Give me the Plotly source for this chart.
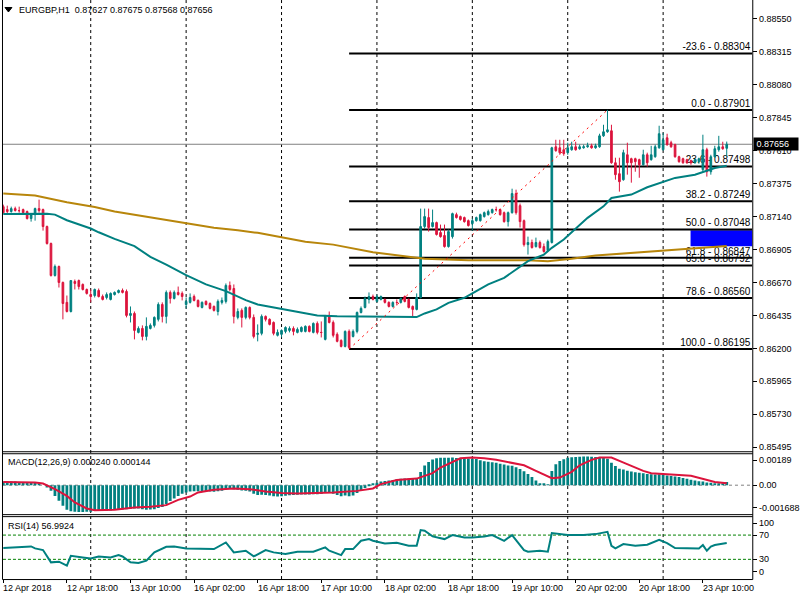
import plotly.graph_objects as go

# ---------------- data ----------------
symbol_title = "EURGBP,H1"
last_ohlc = [0.87627, 0.87675, 0.87568, 0.87656]

open_ = [
0.87211, 0.87190, 0.87176, 0.87197, 0.87183, 0.87190, 0.87176, 0.87126, 0.87154, 0.87197,
0.87190, 0.87069, 0.86948, 0.86720, 0.86784, 0.86670, 0.86528, 0.86463, 0.86677, 0.86684,
0.86656, 0.86620, 0.86584, 0.86577, 0.86613, 0.86570, 0.86563, 0.86549, 0.86584, 0.86599,
0.86613, 0.86606, 0.86435, 0.86449, 0.86314, 0.86342, 0.86285, 0.86342, 0.86364, 0.86407,
0.86513, 0.86428, 0.86599, 0.86556, 0.86599, 0.86592, 0.86513, 0.86528, 0.86570, 0.86542,
0.86492, 0.86535, 0.86520, 0.86499, 0.86463, 0.86528, 0.86535, 0.86649, 0.86627, 0.86421,
0.86471, 0.86421, 0.86492, 0.86421, 0.86300, 0.86307, 0.86428, 0.86407, 0.86385, 0.86293,
0.86300, 0.86321, 0.86328, 0.86342, 0.86314, 0.86321, 0.86321, 0.86357, 0.86314, 0.86378,
0.86314, 0.86264, 0.86435, 0.86385, 0.86300, 0.86257, 0.86214, 0.86321, 0.86285, 0.86321,
0.86456, 0.86492, 0.86549, 0.86570, 0.86535, 0.86549, 0.86549, 0.86528, 0.86499, 0.86528,
0.86528, 0.86570, 0.86549, 0.86499, 0.86478, 0.86563, 0.87069, 0.87133, 0.87069, 0.87097,
0.87026, 0.87005, 0.86926, 0.86997, 0.87154, 0.87140, 0.87133, 0.87111, 0.87090, 0.87111,
0.87111, 0.87140, 0.87154, 0.87168, 0.87190, 0.87190, 0.87168, 0.87104, 0.87168, 0.87304,
0.87218, 0.87111, 0.86940, 0.86955, 0.86926, 0.86955, 0.86926, 0.86898, 0.86955, 0.87638,
0.87631, 0.87617, 0.87596, 0.87617, 0.87638, 0.87624, 0.87631, 0.87638, 0.87645, 0.87631,
0.87638, 0.87716, 0.87745, 0.87752, 0.87524, 0.87446, 0.87403, 0.87581, 0.87553, 0.87553,
0.87546, 0.87510, 0.87581, 0.87546, 0.87567, 0.87631, 0.87617, 0.87702, 0.87667, 0.87653,
0.87567, 0.87553, 0.87546, 0.87539, 0.87524, 0.87532, 0.87475, 0.87617, 0.87460, 0.87567,
0.87617, 0.87638, 0.87627]

high = [
0.87225, 0.87218, 0.87211, 0.87211, 0.87211, 0.87197, 0.87183, 0.87161, 0.87204, 0.87261,
0.87197, 0.87076, 0.86955, 0.86798, 0.86791, 0.86677, 0.86577, 0.86684, 0.86691, 0.86691,
0.86663, 0.86627, 0.86620, 0.86627, 0.86627, 0.86584, 0.86599, 0.86599, 0.86606, 0.86620,
0.86627, 0.86620, 0.86499, 0.86463, 0.86357, 0.86364, 0.86421, 0.86378, 0.86428, 0.86528,
0.86528, 0.86613, 0.86613, 0.86613, 0.86641, 0.86606, 0.86563, 0.86592, 0.86584, 0.86549,
0.86535, 0.86542, 0.86528, 0.86506, 0.86549, 0.86563, 0.86663, 0.86677, 0.86656, 0.86485,
0.86485, 0.86499, 0.86499, 0.86442, 0.86371, 0.86442, 0.86435, 0.86414, 0.86392, 0.86335,
0.86335, 0.86357, 0.86357, 0.86357, 0.86349, 0.86357, 0.86364, 0.86364, 0.86385, 0.86392,
0.86392, 0.86435, 0.86463, 0.86399, 0.86314, 0.86264, 0.86328, 0.86335, 0.86335, 0.86463,
0.86499, 0.86570, 0.86599, 0.86584, 0.86584, 0.86577, 0.86556, 0.86535, 0.86535, 0.86549,
0.86563, 0.86577, 0.86556, 0.86506, 0.86592, 0.87197, 0.87197, 0.87197, 0.87190, 0.87104,
0.87083, 0.87083, 0.87047, 0.87168, 0.87168, 0.87147, 0.87140, 0.87119, 0.87126, 0.87140,
0.87161, 0.87176, 0.87190, 0.87197, 0.87211, 0.87197, 0.87176, 0.87176, 0.87339, 0.87332,
0.87233, 0.87119, 0.86997, 0.86976, 0.86990, 0.86969, 0.86948, 0.86976, 0.87638, 0.87688,
0.87688, 0.87688, 0.87667, 0.87674, 0.87674, 0.87653, 0.87653, 0.87667, 0.87660, 0.87660,
0.87731, 0.87795, 0.87901, 0.87795, 0.87560, 0.87560, 0.87617, 0.87667, 0.87560, 0.87560,
0.87553, 0.87617, 0.87596, 0.87645, 0.87653, 0.87788, 0.87738, 0.87731, 0.87681, 0.87660,
0.87574, 0.87560, 0.87553, 0.87546, 0.87553, 0.87560, 0.87724, 0.87631, 0.87581, 0.87645,
0.87716, 0.87674, 0.87675]

low = [
0.87161, 0.87154, 0.87168, 0.87176, 0.87168, 0.87161, 0.87119, 0.87104, 0.87111, 0.87168,
0.87040, 0.86940, 0.86712, 0.86712, 0.86634, 0.86407, 0.86456, 0.86456, 0.86620, 0.86620,
0.86613, 0.86584, 0.86528, 0.86563, 0.86563, 0.86542, 0.86549, 0.86542, 0.86577, 0.86592,
0.86592, 0.86421, 0.86385, 0.86264, 0.86307, 0.86257, 0.86257, 0.86335, 0.86349, 0.86392,
0.86385, 0.86378, 0.86520, 0.86549, 0.86577, 0.86542, 0.86485, 0.86520, 0.86535, 0.86492,
0.86485, 0.86506, 0.86478, 0.86463, 0.86435, 0.86513, 0.86520, 0.86606, 0.86378, 0.86407,
0.86349, 0.86407, 0.86407, 0.86271, 0.86250, 0.86293, 0.86392, 0.86364, 0.86293, 0.86285,
0.86278, 0.86307, 0.86314, 0.86293, 0.86307, 0.86314, 0.86314, 0.86314, 0.86307, 0.86300,
0.86278, 0.86257, 0.86378, 0.86278, 0.86243, 0.86207, 0.86207, 0.86195, 0.86278, 0.86307,
0.86449, 0.86485, 0.86520, 0.86542, 0.86528, 0.86542, 0.86520, 0.86492, 0.86492, 0.86506,
0.86520, 0.86528, 0.86485, 0.86428, 0.86471, 0.86556, 0.87054, 0.87033, 0.87062, 0.87005,
0.86990, 0.86919, 0.86919, 0.86983, 0.87126, 0.87111, 0.87097, 0.87069, 0.87040, 0.87104,
0.87104, 0.87133, 0.87147, 0.87161, 0.87176, 0.87147, 0.87097, 0.87069, 0.87161, 0.87154,
0.87062, 0.86926, 0.86869, 0.86912, 0.86919, 0.86912, 0.86883, 0.86891, 0.86948, 0.87603,
0.87581, 0.87574, 0.87581, 0.87610, 0.87610, 0.87617, 0.87624, 0.87631, 0.87624, 0.87624,
0.87631, 0.87709, 0.87738, 0.87517, 0.87403, 0.87318, 0.87396, 0.87439, 0.87382, 0.87460,
0.87417, 0.87503, 0.87496, 0.87539, 0.87560, 0.87624, 0.87610, 0.87645, 0.87631, 0.87560,
0.87524, 0.87517, 0.87517, 0.87510, 0.87517, 0.87517, 0.87460, 0.87425, 0.87439, 0.87560,
0.87603, 0.87617, 0.87568]

close = [
0.87168, 0.87176, 0.87197, 0.87183, 0.87182, 0.87168, 0.87126, 0.87154, 0.87197, 0.87183,
0.87069, 0.86948, 0.86720, 0.86784, 0.86670, 0.86520, 0.86463, 0.86684, 0.86663, 0.86641,
0.86620, 0.86592, 0.86570, 0.86620, 0.86570, 0.86549, 0.86584, 0.86592, 0.86599, 0.86613,
0.86599, 0.86435, 0.86449, 0.86328, 0.86342, 0.86285, 0.86357, 0.86364, 0.86421, 0.86513,
0.86428, 0.86599, 0.86556, 0.86599, 0.86584, 0.86570, 0.86535, 0.86563, 0.86542, 0.86499,
0.86528, 0.86513, 0.86485, 0.86471, 0.86535, 0.86542, 0.86649, 0.86620, 0.86428, 0.86463,
0.86421, 0.86492, 0.86421, 0.86285, 0.86307, 0.86428, 0.86407, 0.86371, 0.86307, 0.86314,
0.86328, 0.86349, 0.86342, 0.86321, 0.86335, 0.86349, 0.86357, 0.86321, 0.86378, 0.86314,
0.86313, 0.86435, 0.86385, 0.86293, 0.86250, 0.86214, 0.86321, 0.86207, 0.86321, 0.86456,
0.86485, 0.86556, 0.86570, 0.86549, 0.86570, 0.86570, 0.86528, 0.86499, 0.86528, 0.86527,
0.86556, 0.86535, 0.86492, 0.86478, 0.86563, 0.87069, 0.87140, 0.87062, 0.87097, 0.87012,
0.86997, 0.86926, 0.87033, 0.87161, 0.87133, 0.87119, 0.87104, 0.87076, 0.87111, 0.87133,
0.87154, 0.87168, 0.87176, 0.87190, 0.87189, 0.87154, 0.87104, 0.87168, 0.87304, 0.87168,
0.87104, 0.86940, 0.86955, 0.86919, 0.86955, 0.86919, 0.86891, 0.86962, 0.87631, 0.87610,
0.87596, 0.87589, 0.87631, 0.87638, 0.87617, 0.87638, 0.87638, 0.87645, 0.87631, 0.87645,
0.87716, 0.87745, 0.87759, 0.87524, 0.87439, 0.87389, 0.87596, 0.87524, 0.87524, 0.87532,
0.87510, 0.87581, 0.87524, 0.87581, 0.87638, 0.87731, 0.87688, 0.87653, 0.87638, 0.87567,
0.87532, 0.87524, 0.87524, 0.87524, 0.87546, 0.87553, 0.87617, 0.87460, 0.87567, 0.87624,
0.87638, 0.87624, 0.87656]

# moving averages (sampled at bar indices)
ma_fast_bar = [0, 11, 13, 16, 22, 24, 28, 33, 37, 41, 46, 51, 56, 61, 64, 70, 76, 79, 84, 95,
               104, 106, 109, 112, 116, 119, 122, 126, 129, 132, 136, 138, 141, 144, 147, 151,
               153, 158, 162, 169, 174, 179, 182]
ma_fast_val = [0.87159, 0.87161, 0.87154, 0.87114, 0.87055, 0.87028, 0.86981, 0.86929, 0.86853,
               0.86798, 0.86722, 0.86656, 0.86608, 0.86544, 0.86513, 0.86483, 0.86454, 0.86435,
               0.86430, 0.86428, 0.86423, 0.86449, 0.86478, 0.86525, 0.86561, 0.86608, 0.86656,
               0.86703, 0.86763, 0.86822, 0.86869, 0.86917, 0.86976, 0.87052, 0.87131, 0.87213,
               0.87273, 0.87297, 0.87349, 0.87416, 0.87439, 0.87487, 0.87503]
ma_slow_bar = [0, 8, 16, 23, 28, 34, 41, 47, 53, 59, 64, 70, 76, 83, 89, 93, 101, 106, 117, 132,
               137, 143, 149, 158, 169, 182]
ma_slow_val = [0.87304, 0.87290, 0.87242, 0.87209, 0.87176, 0.87147, 0.87114, 0.87088, 0.87060,
               0.87042, 0.87024, 0.86993, 0.86960, 0.86940, 0.86905, 0.86886, 0.86857, 0.86839,
               0.86829, 0.86829, 0.86822, 0.86839, 0.86862, 0.86881, 0.86900, 0.86930]

# MACD(12,26,9) main (histogram) per bar, and signal line samples
macd_main = [
0.00028, 0.00028, 0.00028, 0.00027, 0.00025, 0.00025, 0.00024, 0.00020, 0.00020, 0.00013,
0.00000, -0.00018, -0.00043, -0.00081, -0.00118, -0.00156, -0.00186, -0.00197, -0.00202, -0.00203,
-0.00203, -0.00202, -0.00202, -0.00196, -0.00195, -0.00194, -0.00194, -0.00192, -0.00188, -0.00186,
-0.00184, -0.00183, -0.00178, -0.00176, -0.00176, -0.00182, -0.00186, -0.00185, -0.00182, -0.00172,
-0.00165, -0.00145, -0.00120, -0.00100, -0.00082, -0.00065, -0.00055, -0.00048, -0.00045, -0.00045,
-0.00047, -0.00048, -0.00048, -0.00050, -0.00046, -0.00042, -0.00030, -0.00025, -0.00030, -0.00035,
-0.00040, -0.00042, -0.00048, -0.00065, -0.00075, -0.00072, -0.00074, -0.00078, -0.00083, -0.00086,
-0.00084, -0.00080, -0.00077, -0.00075, -0.00073, -0.00071, -0.00070, -0.00070, -0.00068, -0.00068,
-0.00066, -0.00058, -0.00058, -0.00065, -0.00075, -0.00083, -0.00078, -0.00083, -0.00078, -0.00060,
-0.00042, -0.00022, -0.00005, 0.00008, 0.00018, 0.00028, 0.00032, 0.00036, 0.00040, 0.00045,
0.00048, 0.00050, 0.00050, 0.00048, 0.00055, 0.00100, 0.00150, 0.00176, 0.00195, 0.00204,
0.00207, 0.00207, 0.00208, 0.00209, 0.00206, 0.00205, 0.00204, 0.00203, 0.00201, 0.00199,
0.00188, 0.00182, 0.00178, 0.00174, 0.00170, 0.00162, 0.00156, 0.00150, 0.00148, 0.00136,
0.00122, 0.00105, 0.00085, 0.00062, 0.00035, 0.00015, 0.00010, 0.00004, 0.00108, 0.00159,
0.00184, 0.00197, 0.00207, 0.00212, 0.00214, 0.00216, 0.00217, 0.00217, 0.00216, 0.00214,
0.00213, 0.00210, 0.00200, 0.00170, 0.00145, 0.00125, 0.00118, 0.00110, 0.00104, 0.00098,
0.00095, 0.00090, 0.00085, 0.00082, 0.00080, 0.00082, 0.00078, 0.00074, 0.00070, 0.00066,
0.00062, 0.00055, 0.00048, 0.00042, 0.00035, 0.00030, 0.00028, 0.00020, 0.00018, 0.00014,
0.00010, 0.00012, 0.00024]
signal_bar = [0, 8, 10, 13, 16, 18, 21, 23, 28, 33, 37, 41, 44, 47, 49, 53, 58, 62, 66, 70, 74,
              79, 83, 89, 93, 95, 99, 104, 108, 110, 113, 115, 118, 121, 124, 128, 131, 134,
              137, 138, 140, 143, 145, 148, 150, 153, 155, 158, 161, 163, 166, 170, 173, 176,
              179, 182]
signal_val = [0.00025, 0.00020, 0.00013, -0.00030, -0.00081, -0.00131, -0.00176, -0.00189,
              -0.00186, -0.00169, -0.00164, -0.00151, -0.00111, -0.00086, -0.00055, -0.00035,
              -0.00025, -0.00030, -0.00048, -0.00060, -0.00063, -0.00060, -0.00055, -0.00043,
              -0.00025, 0.00008, 0.00040, 0.00050, 0.00091, 0.00134, 0.00176, 0.00204, 0.00209,
              0.00204, 0.00192, 0.00171, 0.00151, 0.00108, 0.00071, 0.00053, 0.00058, 0.00101,
              0.00151, 0.00192, 0.00209, 0.00209, 0.00184, 0.00146, 0.00108, 0.00091, 0.00083,
              0.00078, 0.00071, 0.00045, 0.00025, 0.000144]

# RSI(14) samples
rsi_bar = [0, 7, 8, 10, 12, 14, 16, 17, 20, 22, 24, 27, 29, 30, 32, 34, 36, 38, 41, 43, 46, 49,
           53, 56, 58, 61, 63, 66, 68, 71, 74, 78, 81, 82, 85, 86, 88, 90, 92, 93, 96, 99, 102,
           104, 105, 106, 108, 111, 113, 116, 118, 121, 123, 126, 128, 131, 132, 135, 137, 138,
           140, 142, 146, 149, 152, 153, 154, 156, 159, 162, 165, 167, 169, 172, 175, 176, 177,
           178, 179, 182]
rsi_val = [48.6, 51.3, 48.0, 45.3, 25.0, 26.1, 19.5, 35.9, 33.2, 31.5, 34.8, 33.2, 37.0, 34.8,
           25.0, 23.9, 27.7, 41.5, 50.8, 51.3, 48.0, 48.0, 46.9, 57.9, 41.5, 44.2, 34.8, 45.3,
           41.5, 38.7, 42.5, 42.5, 49.7, 44.2, 37.0, 46.9, 46.9, 60.6, 63.4, 60.6, 56.2, 57.3,
           52.4, 52.4, 78.2, 77.1, 67.8, 63.4, 70.0, 66.1, 66.1, 67.8, 70.0, 60.6, 70.0, 45.3,
           42.5, 44.2, 42.5, 73.3, 71.6, 70.0, 70.0, 71.6, 75.4, 52.4, 48.0, 55.1, 52.4, 54.0,
           62.3, 56.8, 48.6, 48.6, 48.0, 53.5, 44.2, 51.0, 53.5, 56.9924]

# Fibonacci retracement (from low bar 87 to high bar 152)
fib_start_bar = 87
fib_end_bar = 152
fib_levels = ["-23.6", "0.0", "23.6", "38.2", "50.0", "61.8", "65.0", "78.6", "100.0"]
fib_prices = [0.88304, 0.87901, 0.87498, 0.87249, 0.87048, 0.86847, 0.86792, 0.86560, 0.86195]
box_price = [0.86928, 0.87042]
box_bar = 172.9

price_ticks = [0.88550, 0.88315, 0.88080, 0.87845, 0.87610, 0.87375, 0.87140, 0.86905,
               0.86670, 0.86435, 0.86200, 0.85965, 0.85730, 0.85495]
macd_ticks = [0.00189, 0.0, -0.001688]
macd_tick_text = ["0.00189", "0.00", "-0.001688"]
rsi_tick_pos = [89.7, 70, 30, 9.5]
rsi_tick_text = ["100", "70", "30", "0"]
rsi_levels = [70, 30]

time_labels = ["12 Apr 2018", "12 Apr 18:00", "13 Apr 10:00", "16 Apr 02:00", "16 Apr 18:00",
               "17 Apr 10:00", "18 Apr 02:00", "18 Apr 18:00", "19 Apr 10:00", "20 Apr 02:00",
               "20 Apr 18:00", "23 Apr 10:00"]
time_label_bars = [0, 16, 32, 48, 64, 80, 96, 112, 128, 144, 160, 176]
day_separator_bars = [22, 46, 70, 94, 118, 142, 166]

# ---------------- style / layout ----------------
W, H = 800, 600
def px(x):
    return x / W
def py(y):
    return 1 - y / H

TEAL = "#008080"
CRIMSON = "#DC143C"
GOLD = "#B8860B"
FONT = "Liberation Sans"
XR = [-0.075, 188.425]

bars = list(range(len(close)))

fig = go.Figure()
fig.add_trace(go.Candlestick(
    x=bars, open=open_, high=high, low=low, close=close,
    increasing=dict(line=dict(color=TEAL, width=1), fillcolor=TEAL),
    decreasing=dict(line=dict(color=CRIMSON, width=1), fillcolor=CRIMSON),
    whiskerwidth=0, hoverinfo="skip", showlegend=False, xaxis="x", yaxis="y"))
fig.add_trace(go.Scatter(x=ma_slow_bar, y=ma_slow_val, mode="lines",
                         line=dict(color=GOLD, width=2), hoverinfo="skip",
                         showlegend=False, xaxis="x", yaxis="y"))
fig.add_trace(go.Scatter(x=ma_fast_bar, y=ma_fast_val, mode="lines",
                         line=dict(color=TEAL, width=2), hoverinfo="skip",
                         showlegend=False, xaxis="x", yaxis="y"))
fig.add_trace(go.Bar(x=bars, y=macd_main, width=0.7, marker=dict(color=TEAL, line=dict(width=0)),
                     hoverinfo="skip", showlegend=False, xaxis="x", yaxis="y2"))
fig.add_trace(go.Scatter(x=signal_bar, y=signal_val, mode="lines",
                         line=dict(color=CRIMSON, width=2), hoverinfo="skip",
                         showlegend=False, xaxis="x", yaxis="y2"))
fig.add_trace(go.Scatter(x=rsi_bar, y=rsi_val, mode="lines",
                         line=dict(color=TEAL, width=2), hoverinfo="skip",
                         showlegend=False, xaxis="x", yaxis="y3"))

shapes = []
# day separators
for b in day_separator_bars:
    shapes.append(dict(type="line", xref="x", yref="paper", x0=b, x1=b, y0=py(580), y1=1,
                       line=dict(color="black", width=1, dash="3px,3px"), layer="below"))
# current price line
shapes.append(dict(type="line", xref="x", yref="y", x0=XR[0], x1=XR[1],
                   y0=last_ohlc[3], y1=last_ohlc[3], line=dict(color="#808080", width=1),
                   layer="below"))
# blue rectangle
shapes.append(dict(type="rect", xref="x", yref="y", x0=box_bar, x1=XR[1],
                   y0=box_price[0], y1=box_price[1], fillcolor="#0000FF",
                   line=dict(width=0), layer="below"))
# fibonacci levels
for lev, p in zip(fib_levels, fib_prices):
    shapes.append(dict(type="line", xref="x", yref="y", x0=fib_start_bar, x1=XR[1], y0=p, y1=p,
                       line=dict(color="black", width=2), layer="below",
                       label=dict(text=f"{lev} - {p:.5f}", textposition="end", xanchor="right",
                                  yanchor="bottom", padding=2, textangle=0,
                                  font=dict(family=FONT, size=10, color="black"))))
# fib base trend line
shapes.append(dict(type="line", xref="x", yref="y", x0=fib_start_bar, x1=fib_end_bar,
                   y0=fib_prices[-1], y1=fib_prices[1],
                   line=dict(color="red", width=1, dash="2px,4px")))
# MACD zero level
shapes.append(dict(type="line", xref="x", yref="y2", x0=XR[0], x1=XR[1], y0=0, y1=0,
                   line=dict(color="#808080", width=1, dash="3px,3px"), layer="below"))
# RSI levels
for lv in rsi_levels:
    shapes.append(dict(type="line", xref="x", yref="y3", x0=XR[0], x1=XR[1], y0=lv, y1=lv,
                       line=dict(color="#008000", width=1, dash="3px,2px"), layer="below"))
# panel borders
L, R = 2.5, 757.5
for yy in [452.5, 454.5, 515.5, 517.5, 580.5]:
    shapes.append(dict(type="line", xref="paper", yref="paper", x0=px(L), x1=px(R),
                       y0=py(yy), y1=py(yy), line=dict(color="black", width=1)))
for xx in [L, R]:
    shapes.append(dict(type="line", xref="paper", yref="paper", x0=px(xx), x1=px(xx),
                       y0=py(580.5), y1=1, line=dict(color="black", width=1)))
# small triangle of the title
shapes.append(dict(type="path", xref="paper", yref="paper",
                   path=f"M {px(5)},{py(7.5)} L {px(12)},{py(7.5)} L {px(8.5)},{py(12)} Z",
                   fillcolor="black", line=dict(color="black", width=1)))

annotations = []
annotations.append(dict(xref="paper", yref="paper", x=px(17), y=py(10.5), xanchor="left",
                        yanchor="middle", showarrow=False,
                        text=symbol_title + "\u00a0\u00a0" + " ".join(f"{v:.5f}" for v in last_ohlc),
                        font=dict(family=FONT, size=9, color="black")))
annotations.append(dict(xref="paper", yref="paper", x=px(6), y=py(463), xanchor="left",
                        yanchor="middle", showarrow=False,
                        text=f"MACD(12,26,9) {macd_main[-1]:.6f} {signal_val[-1]:.6f}",
                        font=dict(family=FONT, size=9, color="black")))
annotations.append(dict(xref="paper", yref="paper", x=px(6), y=py(527), xanchor="left",
                        yanchor="middle", showarrow=False,
                        text=f"RSI(14) {rsi_val[-1]:.4f}",
                        font=dict(family=FONT, size=9, color="black")))
for t, b in zip(time_labels, time_label_bars):
    annotations.append(dict(xref="x", yref="paper", x=b, y=py(588.5), xanchor="left",
                            yanchor="middle", showarrow=False, xshift=-2, text=t,
                            font=dict(family=FONT, size=9, color="black")))
# current price tag
annotations.append(dict(xref="paper", yref="y", x=px(757.5), y=last_ohlc[3], xanchor="left",
                        yanchor="middle", showarrow=False, text=f"\u00a0{last_ohlc[3]:.5f}",
                        width=44, height=12, align="left", bgcolor="black", borderpad=0,
                        font=dict(family=FONT, size=9, color="white")))

axis_common = dict(showgrid=False, zeroline=False, showline=False, fixedrange=True)
fig.update_layout(
    width=W, height=H, margin=dict(l=0, r=0, t=0, b=0),
    paper_bgcolor="white", plot_bgcolor="white",
    font=dict(family=FONT, size=9, color="black"),
    showlegend=False, boxgap=0.4, bargap=0.3,
    xaxis=dict(domain=[px(3), px(757)], range=XR, anchor="y3", tickmode="array",
               tickvals=time_label_bars, ticks="outside", ticklen=3, tickcolor="black",
               showticklabels=False, rangeslider=dict(visible=False), **axis_common),
    yaxis=dict(domain=[py(452), 1], range=[0.854662, 0.886849], side="right", anchor="x",
               tickmode="array", tickvals=price_ticks, ticktext=[f"{v:.5f}" for v in price_ticks],
               ticks="outside", ticklen=4, tickcolor="black",
               tickfont=dict(family=FONT, size=9, color="black"), **axis_common),
    yaxis2=dict(domain=[py(515), py(454)], range=[-0.002192, 0.002419], side="right", anchor="x",
                tickmode="array", tickvals=macd_ticks, ticktext=macd_tick_text,
                ticks="outside", ticklen=4, tickcolor="black",
                tickfont=dict(family=FONT, size=9, color="black"), **axis_common),
    yaxis3=dict(domain=[py(580), py(517)], range=[-2.47, 101.23], side="right", anchor="x",
                tickmode="array", tickvals=rsi_tick_pos, ticktext=rsi_tick_text,
                ticks="outside", ticklen=4, tickcolor="black",
                tickfont=dict(family=FONT, size=9, color="black"), **axis_common),
    shapes=shapes, annotations=annotations,
)

fig.write_html("out.html")
